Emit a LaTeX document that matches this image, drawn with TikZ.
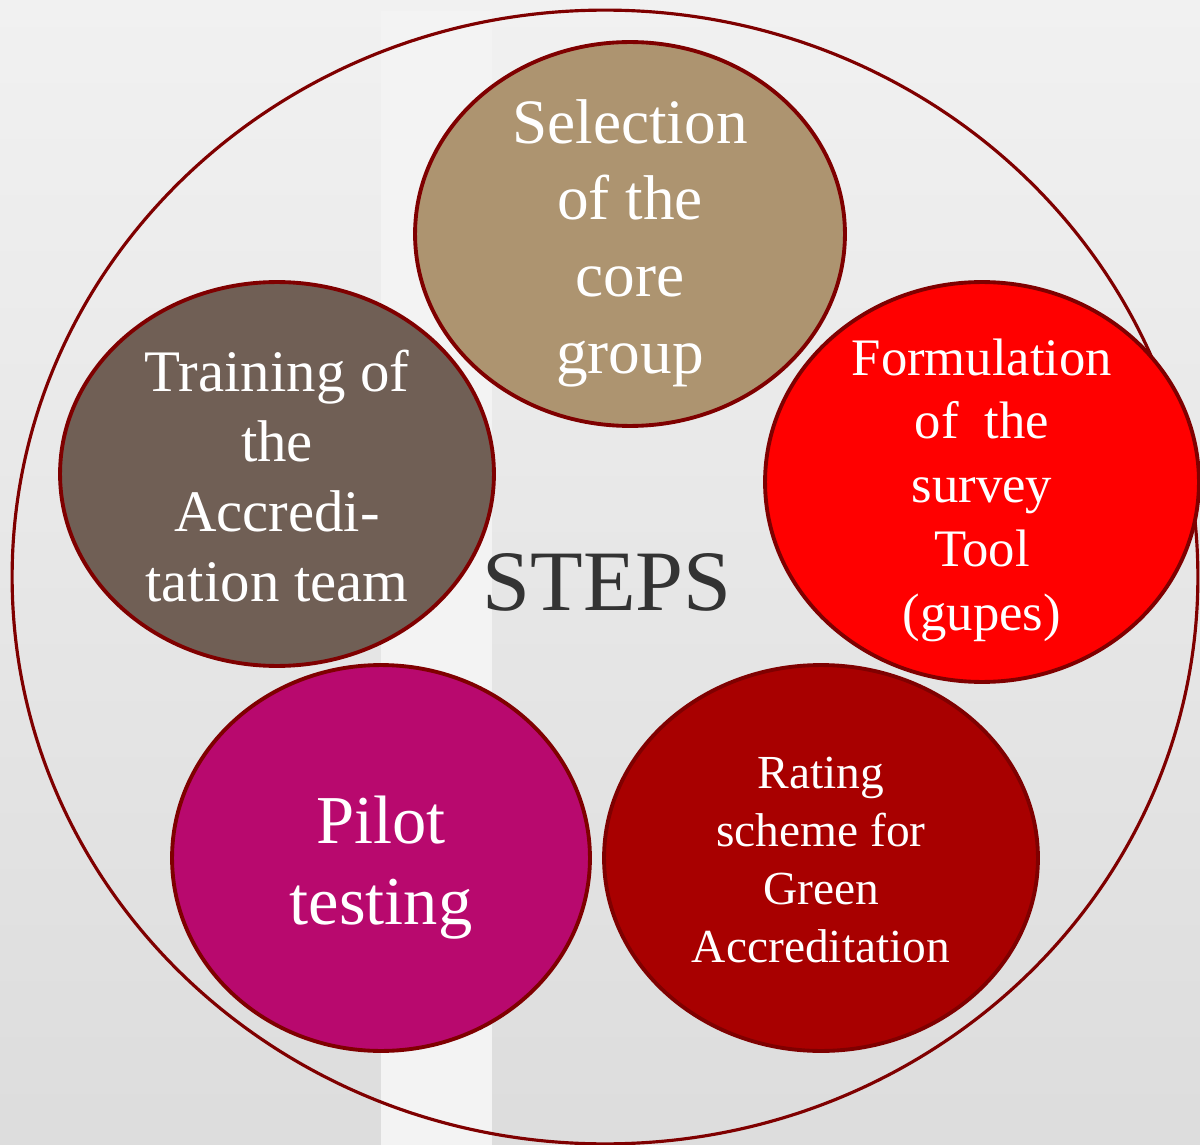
\documentclass[tikz,border=0pt]{standalone}
\usepackage{fontspec}
\usepackage{xcolor}
\usepackage{tikz}
\usetikzlibrary{shapes.geometric}
\setmainfont{Liberation Serif}

\definecolor{rimred}{RGB}{127,0,0}
\definecolor{tan}{RGB}{173,148,112}
\definecolor{taupe}{RGB}{112,95,85}
\definecolor{brightred}{RGB}{255,0,0}
\definecolor{deepred}{RGB}{168,0,0}
\definecolor{berry}{RGB}{184,9,110}
\definecolor{stripgray}{RGB}{243,243,243}
\definecolor{darktext}{RGB}{51,51,51}

\begin{document}
\begin{tikzpicture}[x=0.02cm, y=-0.02cm,
    stepbubble/.style={ellipse, draw=rimred, line width=2.2pt, inner sep=0pt},
    steptext/.style={text=white, align=center, inner sep=0pt}]
        \useasboundingbox (0,0) rectangle (1200,1145);
        % background
        \shade[top color=gray!11, bottom color=gray!27] (0,0) rectangle (1200,1145);
        \fill[stripgray] (381,11) rectangle (492,1145);
        % outer ring
        \draw[rimred, line width=1.8pt] (605,577) ellipse [x radius=11.86cm, y radius=11.34cm];
        \node[text=darktext, font=\fontsize{49}{56}\selectfont] (steps) at (607,582) {STEPS};
        % the five steps
        \node[stepbubble, fill=tan, minimum width=8.6cm, minimum height=7.68cm] 
        (selection) at (630,234) {};
        \node[stepbubble, fill=brightred, minimum width=8.68cm, minimum height=8cm] 
        (formulation) at (982,482) {};
        \node[stepbubble, fill=deepred, minimum width=8.68cm, minimum height=7.72cm] 
        (rating) at (821,858) {};
        \node[stepbubble, fill=berry, minimum width=8.36cm, minimum height=7.72cm] 
        (pilot) at (381,858) {};
        \node[stepbubble, fill=taupe, minimum width=8.68cm, minimum height=7.68cm] 
        (training) at (277,474) {};
        % their texts
        \node[steptext, font=\fontsize{36}{43.6}\selectfont, yshift=-9*0.02cm] 
        (selection-text) at (selection) {Selection\\of the\\core\\group};
        \node[steptext, font=\fontsize{30}{36.3}\selectfont, yshift=-8*0.02cm] 
        (formulation-text) at (formulation) {Formulation\\of\ \ the\\survey\\Tool\\(gupes)};
        \node[steptext, font=\fontsize{27}{32.9}\selectfont, yshift=-2*0.02cm] 
        (rating-text) at (rating) {Rating\\scheme for\\Green\\Accreditation};
        \node[steptext, font=\fontsize{39}{46}\selectfont, yshift=-10*0.02cm] 
        (pilot-text) at (pilot) {Pilot\\testing};
        \node[steptext, font=\fontsize{33.5}{39.7}\selectfont, yshift=-2*0.02cm] 
        (training-text) at (training) {Training of\\the\\Accredi-\\tation team};
    \end{tikzpicture}
\end{document}
